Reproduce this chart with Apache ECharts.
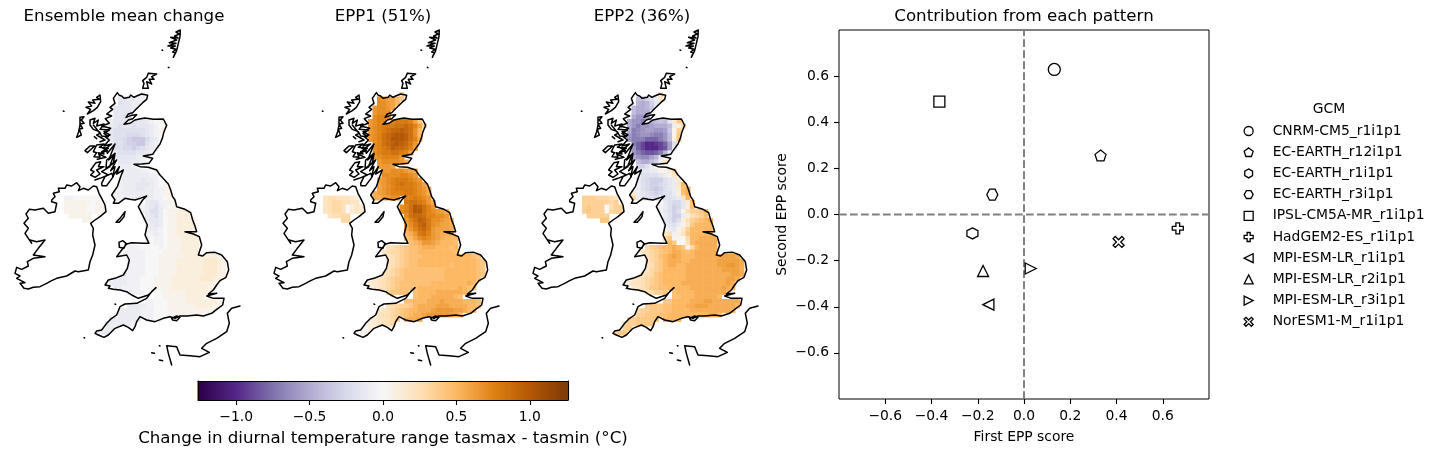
<!DOCTYPE html>
<html><head><meta charset="utf-8">
<style>html,body{margin:0;background:#fff}#c{width:1440px;height:454px}</style>
<script src="https://cdn.jsdelivr.net/npm/echarts@6/dist/echarts.min.js"></script>
</head><body><div id="c"></div>
<script>
// ---- scatter data ----
const gcmNames=['CNRM-CM5_r1i1p1','EC-EARTH_r12i1p1','EC-EARTH_r1i1p1','EC-EARTH_r3i1p1','IPSL-CM5A-MR_r1i1p1','HadGEM2-ES_r1i1p1','MPI-ESM-LR_r1i1p1','MPI-ESM-LR_r2i1p1','MPI-ESM-LR_r3i1p1','NorESM1-M_r1i1p1'];
const firstEpp=[0.131,0.331,-0.223,-0.137,-0.366,0.665,-0.154,-0.177,0.029,0.409];
const secondEpp=[0.629,0.256,-0.082,0.086,0.489,-0.06,-0.391,-0.245,-0.234,-0.119];
const gcmMarkers=['circle','path://M5,0L10,3.8L8.1,9.5L1.9,9.5L0,3.8Z','path://M5,0L9.33,2.5L9.33,7.5L5,10L0.67,7.5L0.67,2.5Z','path://M0,5L2.5,0.67L7.5,0.67L10,5L7.5,9.33L2.5,9.33Z','rect','path://M3.3,0H6.7V3.3H10V6.7H6.7V10H3.3V6.7H0V3.3H3.3Z','path://M0,5L10,0V10Z','triangle','path://M10,5L0,0V10Z','path://M2,0L5,3L8,0L10,2L7,5L10,8L8,10L5,7L2,10L0,8L3,5L0,2Z'];
const scoreTicks=[-0.6,-0.4,-0.2,0,0.2,0.4,0.6];
const colorbarTicks=[-1,-0.5,0,0.5,1];
const mapTitles=['Ensemble mean change','EPP1 (51%)','EPP2 (36%)'];
// ---- grid cells: each character is one cell, in steps of 0.05 °C (0-9,A-K = 0..+1.00, a-t = -0.05..-1.00, . = sea)
const decode='0123456789ABCDEFGHIJK';
const gbRowStart=[5,4,4,3,3,3,2,2,2,2,2,3,3,3,3,4,4,5,4,4,4,3,3,3,10,9,9,10,10,10,10,10,10,10,6,5,6,6,6,5,4,3,2,3,6,12,10,6,4,3,2,1,0,-1];
const irelandRowStart=[-8,-8,-8,-8,-7,-4];
const irelandFirstRow=23;
const meanRows=['cbbaa','ccbbbaa','dccbba','ccccbb','ccccb','ccdc','bcccccccba01','bcdccdcccba01','cdddddddcba1','cdddeeedcba0','cddefgggecb0','ddeffggdba','ddeefedcba','cddddccba','cccccba','cccbba0','bbba','bbbbaa01','bbbbbbbaa1','abbbbcbba01','abbbcccba01','aabbbccbbaa11','aabbbbbbbaa11','aaaabbbbbaa011','bccaa11','abcdba011','abddb011222','bcdb0112222','bccb0112222','abcb01122222','abba01122222','aaba011222222','a0aa011122222','00aa011122222','aaa0000a011122222','aaaaa000011112222','aaaa00011111122222221','aaaa000111122222233321','aaaa000111122222233321','baaaa000111122222233321','bbaaaa000111122222233321','bbbaaa0001111222222333221','bbbbaaa000111122222222211','bbaaaa00011112222222211','baaa0.0011111222222','00111112222','aa0001111222222211','bbbbaa000111111222211','bbbbbaaa00011111111111','bbbbbbaaa00000111111','cbbbbbbaaa000','cbbbbba','cbbbb','bbc'];
const epp1Rows=['CCA86','EDCCA85','EEDCA7','DEEDCA','DEEEC','EFFE','DEFFGFGGGFC8','DEFGGGHHIHFC7','DEFGHIIJIHEA','DEFHIJKKJHEA','DEFHIKKKJHFB','EFHIJKJIGD','EFGHJIIHFC','EFGGHHGFC','DEFFFFD','DEEEEDB','DDDC','DDEEEDCB','CEEEEFFEDC','CDEFGGGFEDB','CDEFGHGGFEC','BCDEFGGGGFEDB','BCDEFFFGGFEDB','BBCDEEFFFGFEDB','GHHGFDB','EFHKJHFDB','EFHKKHFEDCA','EHIIHFFEEDA','DFHJIGEEDCB','CEGIJGEDCCBA','BDFHIGDCCCBA','ABDGHFDCBBBA9','9ACEFEDCBAAA9','89ABDDCBAAA99','5567899ABBBAAA9A9','45667899AAAAAAAA9','45678999AAAAAAAAAAA98','4567899AAAAAAAAAAAAA98','4567899AAAAAAA9AAAAA98','35678999999999AAAAAAA98','345678999999999AAAAAAA98','3456788999999999AAAAAAA98','33456789999999AAAAAAAABA9','3456789999AAAAAAAAABA98','78899.9AAAABBBBBBA9','9AAABBBBBA9','99AAABBBCBBBBAAA9A','556778ABBBBCCCBBBBAA9','3456789AABBBCDDDDCCBA9','34556789ABBCDDDDDCBA','23445678ABBCC','1234456','11234','011'];
const epp2Rows=['fdb25','hhfdb48','ijifc6','hjjig1','hjjjg','jllk','jllnkihghc38','jlnllkjjjhb26','jnmlkkllkg17','knmllmnnlh18','lnnnpppnlh28','nprttsrpkd','lprtttrqkb','lnpqqpnib','jlmmkic','hjjhfb4','ffdb','ccbb1135','cddddcb148','bdefffdcb39','bdeffedcb4A','1bdefgfdcb39B','3bcdefeddb29B','6bcddeeddcb4AB','cdeec39','abdfec29B','acdfd15778A','bdffb25679A','cdfd25789AB','bcdb148AAAAB','abc137AAAAAB','45a248AAAAABB','681106AABBBBA','AA8005ABBBBBA','6789AABA816ABBBBA','456789ABBA9ABBBBB','5679ABCBAAABBBBBBCCCB','4678ABBBAABBBBBBCCCCCB','4578ABBAABBBBBBBCCDDCB','34678AAAAABBBBBBBBCCCCB','345689AAAAABBBBBBBBBBCCB','3456789AAAAABBBBBBBBBCCBA','34456789AAAABBBBBBBBBBCBA','34568899AAAAABBBBBBBCBA','55778.9AAAABBBBBBBA','99AAABBBBBA','88AAAABBBCCBBBBBBA','788899AAABBCCCBBBBBBA','67788899AAAABBBBBBBBBA','77788899AAAAAAAAABBA','7788889AAAAA9','7778888','77888','688'];
const meanIreland=['aa000000','111111011','111110011','111110011','11111','11'];
const epp1Ireland=['45544432','456655443','456650243','456650343','45566','66'];
const epp2Ireland=['77766654','777777677','787770577','787770677','77777','88'];
// ---- coastlines in map-grid units (easting, southing) ----
const greatBritain=[[352,218],[358,226],[365,228],[372,235],[378,230],[388,232],[392,225],[402,232],[410,228],[425,222],[443,226],[440,238],[428,248],[418,258],[408,268],[398,278],[385,282],[378,292],[395,286],[410,284],[398,296],[385,300],[372,313],[390,310],[405,300],[418,297],[435,294],[460,298],[490,297],[500,316],[492,335],[487,355],[480,372],[468,388],[458,403],[430,408],[458,415],[447,430],[425,432],[402,433],[420,440],[445,442],[470,450],[480,465],[492,478],[505,492],[512,510],[518,530],[525,540],[530,560],[555,568],[572,578],[578,600],[585,618],[590,635],[555,635],[580,642],[598,650],[605,675],[595,705],[608,708],[620,698],[645,697],[665,705],[682,725],[686,750],[678,772],[660,782],[650,795],[640,810],[625,822],[650,820],[620,828],[640,835],[672,835],[668,855],[650,868],[635,880],[610,888],[590,885],[560,888],[540,888],[525,895],[510,890],[490,895],[465,905],[440,900],[420,890],[410,905],[405,920],[398,932],[385,922],[370,915],[345,925],[325,945],[312,952],[295,945],[285,940],[290,933],[305,930],[320,910],[335,895],[350,885],[360,860],[375,852],[410,850],[440,835],[455,815],[468,803],[445,825],[415,835],[395,825],[380,815],[360,810],[340,808],[325,805],[330,798],[315,795],[325,780],[345,775],[370,765],[382,745],[388,720],[380,705],[350,710],[365,690],[380,672],[395,668],[430,670],[447,670],[435,645],[442,615],[430,590],[415,560],[428,540],[440,528],[420,535],[405,540],[390,538],[375,535],[355,550],[340,550],[345,540],[335,525],[345,510],[352,500],[362,470],[370,450],[350,462],[358,440],[338,470],[345,440],[332,452],[350,420],[330,436],[342,405],[326,420],[345,372],[322,400],[318,385],[335,372],[312,378],[328,360],[315,350],[330,345],[312,335],[332,325],[305,318],[328,310],[316,296],[335,288],[320,282],[338,268],[330,262],[345,250],[340,235],[352,218]];
const ireland=[[155,540],[165,530],[160,520],[178,515],[175,505],[195,505],[200,495],[215,498],[230,488],[240,500],[235,512],[250,505],[265,510],[280,498],[290,500],[297,520],[305,535],[300,540],[315,555],[318,575],[300,590],[285,600],[272,610],[280,625],[278,645],[285,675],[278,705],[270,725],[265,750],[235,755],[225,753],[200,768],[170,775],[155,782],[140,790],[120,800],[100,802],[85,807],[72,805],[60,790],[75,788],[50,775],[60,768],[45,760],[50,742],[65,748],[85,738],[82,725],[100,715],[135,710],[100,705],[115,685],[135,660],[110,665],[90,660],[95,670],[85,655],[75,640],[85,625],[72,610],[85,595],[78,582],[88,568],[105,570],[130,565],[145,580],[165,575],[170,550],[155,545],[155,540]];
const islands=[
 [[300,225],[290,232],[298,238],[278,240],[285,250],[265,246],[275,258],[258,262],[272,268],[262,282],[280,272],[292,262],[302,245],[300,225]],
 [[240,292],[252,290],[244,300],[252,310],[240,312],[248,325],[238,328],[244,345],[230,352],[236,335],[240,315],[240,292]],
 [[270,300],[285,295],[280,310],[295,300],[290,318],[312,312],[300,328],[328,330],[312,340],[325,350],[305,348],[298,335],[280,328],[270,315],[270,300]],
 [[255,392],[270,378],[284,378],[262,398],[255,392]],
 [[290,375],[312,372],[298,382],[325,385],[305,395],[312,402],[295,398],[300,412],[282,410],[290,398],[280,395],[290,375]],
 [[288,428],[302,425],[295,440],[312,440],[290,450],[300,462],[285,472],[272,465],[282,455],[272,450],[288,428]],
 [[320,420],[345,400],[340,430],[318,445],[320,420]],
 [[305,490],[315,470],[335,460],[340,470],[320,497],[306,497],[305,490]],
 [[300,380],[322,392],[296,402],[318,412],[292,418]],
 [[330,440],[305,455],[325,465],[300,475],[285,480]],
 [[280,315],[300,340],[290,345],[315,360],[300,365]],
 [[541,30],[528,36],[538,42],[524,48],[534,54],[512,52],[530,60],[508,68],[528,70],[504,78],[526,78],[512,84],[528,88],[518,96],[526,98],[520,112],[530,92],[535,70],[540,50],[541,30]],
 [[445,160],[470,162],[455,170],[462,178],[448,178],[455,192],[440,185],[445,205],[428,205],[432,190],[428,182],[440,172],[445,160]],
 [[375,575],[360,595],[348,607],[358,607],[372,590],[375,575]],
 [[357,667],[368,662],[378,670],[372,685],[358,682],[357,667]],
 [[515,895],[530,888],[540,892],[530,902],[518,900],[515,895]],
 [[720,858],[695,865],[682,880],[688,910],[680,935],[650,955],[620,970],[605,985],[628,997],[600,1010],[570,1007],[540,1005],[530,980],[500,977],[505,1000],[515,1035]],
 [[486,90],[488,91]],[[505,142],[507,143]],[[190,273],[192,274]],[[345,852],[347,853]],[[252,953],[254,954]],[[478,977],[480,978]],[[455,998],[463,1000]],[[478,1020],[488,1022]],[[283,350],[290,356]]
];
// ---- build helpers ----
const levelOf=ch=>{const i=decode.indexOf(ch);return i>=0?i*0.05:-(ch.charCodeAt(0)-96)*0.05;};
function cellsFrom(rows,starts,firstRow){const out=[];rows.forEach((s,r)=>{[...s].forEach((ch,i)=>{if(ch!=='.')out.push([starts[r]+i,r+firstRow,levelOf(ch)]);});});return out;}
function inside(poly,x,y){let c=false;for(let i=0,j=poly.length-1;i<poly.length;j=i++){const a=poly[i],b=poly[j];if((a[1]>y)!==(b[1]>y)&&x<(b[0]-a[0])*(y-a[1])/(b[1]-a[1])+a[0])c=!c;}return c;}
const coastData=[greatBritain,ireland,...islands].flatMap(p=>[...p,[NaN,NaN]]);
const CELL=13.5,U0=300,V0=216;
const mapSets=[[meanRows,meanIreland],[epp1Rows,epp1Ireland],[epp2Rows,epp2Ireland]];
const mapLefts=[0,259,518];
const colorbarLevels=[];for(let i=0;i<=370;i++)colorbarLevels.push(-1.26+2.52*i/370);
const puor=['#2d004b','#542788','#8073ac','#b2abd2','#d8daeb','#f7f7f7','#fee0b6','#fdb863','#e08214','#b35806','#7f3b08'];
const font='"DejaVu Sans"';
const txt=13.89,big=16.67;
const grid=[],xAxis=[],yAxis=[],series=[],title=[];
const cellSeriesIdx=[];
const titleStyle={fontFamily:font,fontSize:big,fontWeight:'normal',color:'#000'};
mapSets.forEach((set,m)=>{
 grid.push({left:mapLefts[m],top:20,width:260,height:350});
 xAxis.push({type:'value',gridIndex:m,min:0,max:780,show:false});
 yAxis.push({type:'value',gridIndex:m,min:0,max:1050,inverse:true,show:false});
 const data=[...cellsFrom(set[0],gbRowStart,0),...cellsFrom(set[1],irelandRowStart,irelandFirstRow)].map(c=>[U0+c[0]*CELL,V0+c[1]*CELL,c[2]])
   .filter(c=>inside(greatBritain,c[0]+CELL/2,c[1]+CELL/2)||inside(ireland,c[0]+CELL/2,c[1]+CELL/2));
 cellSeriesIdx.push(series.length);
 series.push({type:'custom',xAxisIndex:m,yAxisIndex:m,silent:true,clip:false,z:2,data,encode:{x:0,y:1},
  renderItem:(p,api)=>{const a=api.coord([api.value(0),api.value(1)]),b=api.coord([api.value(0)+CELL,api.value(1)+CELL]);
   return {type:'rect',shape:{x:a[0],y:a[1],width:b[0]-a[0]+0.4,height:b[1]-a[1]+0.4},style:{fill:api.visual('color')}};}});
 series.push({type:'line',xAxisIndex:m,yAxisIndex:m,silent:true,clip:false,z:3,symbol:'none',connectNulls:false,data:coastData,lineStyle:{color:'#000',width:1.5,cap:'round',join:'round'}});
 title.push({text:mapTitles[m],left:[124,383,642][m],top:8,padding:0,textAlign:'center',textStyle:titleStyle});
});
// scatter panel
grid.push({left:839,top:30,width:370,height:369,show:true,borderColor:'#000',borderWidth:1,backgroundColor:'transparent'});
const axisCommon={type:'value',min:-0.8,max:0.8,splitLine:{show:false},axisLine:{show:false,onZero:false},
 axisTick:{length:5,lineStyle:{color:'#000',width:1.1},customValues:scoreTicks},
 axisLabel:{customValues:scoreTicks,color:'#000',fontFamily:font,fontSize:txt,margin:10,formatter:v=>v.toFixed(1).replace('-','\u2212')}};
xAxis.push({...axisCommon,gridIndex:3,name:'First EPP score',nameLocation:'middle',nameGap:31,nameTextStyle:{color:'#000',fontFamily:font,fontSize:txt}});
yAxis.push({...axisCommon,gridIndex:3,name:'Second EPP score',nameLocation:'middle',nameGap:50,nameTextStyle:{color:'#000',fontFamily:font,fontSize:txt}});
title.push({text:'Contribution from each pattern',left:1024,top:8,padding:0,textAlign:'center',textStyle:titleStyle});
const dash={color:'#808080',width:2,type:[7.7,3.3]};
series.push({type:'line',xAxisIndex:3,yAxisIndex:3,symbol:'none',silent:true,z:1,data:[[-0.8,0],[0.8,0]],lineStyle:dash});
series.push({type:'line',xAxisIndex:3,yAxisIndex:3,symbol:'none',silent:true,z:1,data:[[0,-0.8],[0,0.8]],lineStyle:dash});
gcmNames.forEach((n,i)=>series.push({type:'scatter',name:n,xAxisIndex:3,yAxisIndex:3,symbol:gcmMarkers[i],symbolSize:i===0?12:11,silent:true,z:4,data:[[firstEpp[i],secondEpp[i]]],itemStyle:{color:'rgba(255,255,255,0)',borderColor:'#000',borderWidth:1.3,opacity:1}}));
title.push({text:'GCM',left:1329,top:102,padding:0,textAlign:'center',textStyle:{fontFamily:font,fontSize:txt,fontWeight:'normal',color:'#000'}});
// colorbar
grid.push({left:198,top:381,width:370,height:19});
const cbTickLine={length:5,lineStyle:{color:'#000',width:1.1},customValues:colorbarTicks};
xAxis.push({type:'value',gridIndex:4,min:-1.26,max:1.26,z:5,splitLine:{show:false},axisLine:{show:true,onZero:false,lineStyle:{color:'#000',width:1}},axisTick:cbTickLine,
 axisLabel:{customValues:colorbarTicks,color:'#000',fontFamily:font,fontSize:txt,margin:10,formatter:v=>v.toFixed(1).replace('-','\u2212')},
 name:'Change in diurnal temperature range tasmax - tasmin (\u00b0C)',nameLocation:'middle',nameGap:30,nameTextStyle:{color:'#000',fontFamily:font,fontSize:big}});
xAxis.push({type:'value',gridIndex:4,position:'top',min:-1.26,max:1.26,z:5,splitLine:{show:false},axisLine:{show:true,onZero:false,lineStyle:{color:'#000',width:1}},axisTick:{show:false},axisLabel:{show:false}});
yAxis.push({type:'value',gridIndex:4,min:0,max:1,z:5,splitLine:{show:false},axisLine:{show:true,onZero:false,lineStyle:{color:'#000',width:1}},axisTick:{show:false},axisLabel:{show:false}});
yAxis.push({type:'value',gridIndex:4,position:'right',min:0,max:1,z:5,splitLine:{show:false},axisLine:{show:true,onZero:false,lineStyle:{color:'#000',width:1}},axisTick:{show:false},axisLabel:{show:false}});
cellSeriesIdx.push(series.length);
const step=2.52/370;
series.push({type:'custom',xAxisIndex:4,yAxisIndex:4,silent:true,z:2,data:colorbarLevels.map(v=>[v,0,v]),encode:{x:0,y:1},
 renderItem:(p,api)=>{const a=api.coord([api.value(0)-step/2,1]),b=api.coord([api.value(0)+step/2,0]);
  return {type:'rect',shape:{x:a[0],y:a[1],width:b[0]-a[0]+0.6,height:b[1]-a[1]},style:{fill:api.visual('color')}};}});
const chart=echarts.init(document.getElementById('c'),null,{renderer:'canvas'});
chart.setOption({animation:false,backgroundColor:'#fff',title,grid,xAxis,yAxis,series,
 visualMap:{show:false,type:'continuous',min:-1.25,max:1.25,dimension:2,seriesIndex:cellSeriesIdx,inRange:{color:puor}},
 legend:{show:true,orient:'vertical',left:1243.5,top:124,padding:0,itemWidth:9,itemHeight:9,itemGap:7.2,selectedMode:false,
  textStyle:{color:'#000',fontFamily:font,fontSize:txt,padding:[0,0,0,14.5]},
  data:gcmNames.map((n,i)=>({name:n,icon:gcmMarkers[i],itemStyle:{color:'rgba(255,255,255,0)',borderColor:'#000',borderWidth:1.3}}))}
});
</script></body></html>
